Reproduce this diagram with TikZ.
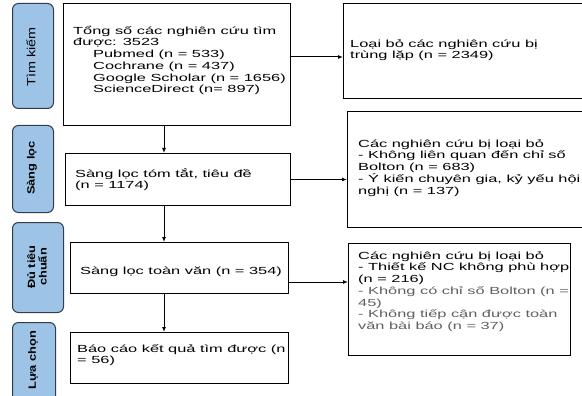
\documentclass[tikz,border=0pt]{standalone}
\usepackage{fontspec}
\setmainfont[FakeStretch=1.59]{Liberation Sans}
\newfontfamily\lblfont[FakeStretch=1.22]{Liberation Sans}
\usetikzlibrary{arrows.meta}
\definecolor{lblfill}{RGB}{157,195,230}
\definecolor{lbldraw}{RGB}{50,60,75}
\definecolor{graytxt}{RGB}{95,95,95}
\newcommand\mysz{\fontsize{10.3}{11.7}\selectfont\lineskiplimit=-20pt\relax}
\newcommand\lblsz{\lblfont\fontsize{10.5}{11.5}\selectfont\lineskiplimit=-20pt\relax}
\newcommand\fstrut{\rule{0pt}{10pt}}
\begin{document}
\begin{tikzpicture}[x=1pt,y=-1pt,
  box/.style={draw,line width=1pt,anchor=north west,inner sep=0pt},
  lbl/.style={draw=lbldraw,fill=lblfill,line width=1pt,rounded corners=6pt,anchor=north west,inner sep=0pt},
  txt/.style={anchor=north west,inner sep=0pt,align=left,font=\mysz},
  ltxt/.style={rotate=90,inner sep=0pt,align=center,font=\lblsz\bfseries},
  arr/.style={line width=1pt,-{Latex[length=5pt,width=4pt]}}]
\useasboundingbox (0,0) rectangle (582,396);
% stage labels
\node[lbl,minimum width=41pt,minimum height=105pt] (L1) at (12,3) {};
\node[lbl,minimum width=41pt,minimum height=87pt] (L2) at (12,125) {};
\node[lbl,minimum width=51pt,minimum height=90pt] (L3) at (12,222) {};
\node[lbl,minimum width=43pt,minimum height=80pt] (L4) at (12,322) {};
\node[ltxt,font=\lblfont\fontsize{11.8}{12}\selectfont] (l1t) at (31,57) {Tìm kiếm};
\node[ltxt] (l2t) at (32,168) {Sàng lọc};
\node[ltxt] (l3t) at (37,267) {Đủ tiêu\\chuẩn};
\node[ltxt] (l4t) at (33,360) {Lựa chọn};
% main boxes
\node[box,minimum width=227pt,minimum height=122pt] (b1) at (63,3) {};
\node[box,minimum width=250pt,minimum height=95pt] (dup) at (343,3) {};
\node[box,minimum width=225pt,minimum height=52pt] (b2) at (65,153) {};
\node[box,minimum width=246pt,minimum height=116pt] (ex1) at (347,111) {};
\node[box,minimum width=218pt,minimum height=51pt] (b3) at (70,242) {};
\node[box,minimum width=222pt,minimum height=112pt] (ex2) at (348,243) {};
\node[box,minimum width=218pt,minimum height=51pt] (b4) at (70,332) {};
% texts
\node[txt] (b1t) at (73,24) {\fstrut Tổng số các nghiên cứu tìm\\được: 3523\\\hspace*{20pt}Pubmed (n = 533)\\\hspace*{20pt}Cochrane (n = 437)\\\hspace*{20pt}Google Scholar (n = 1656)\\\hspace*{20pt}ScienceDirect (n= 897)};
\node[txt] (dupt) at (350,37) {\fstrut Loại bỏ các nghiên cứu bị\\trùng lặp (n = 2349)};
\node[txt] (b2t) at (75,167) {\fstrut Sàng lọc tóm tắt, tiêu đề\\(n = 1174)};
\node[txt] (ex1t) at (358,137) {\fstrut Các nghiên cứu bị loại bỏ\\- Không liên quan đến chỉ số\\Bolton (n = 683)\\- Ý kiến chuyên gia, kỷ yếu hội\\nghị (n = 137)};
\node[txt] (b3t) at (80,264) {\fstrut Sàng lọc toàn văn (n = 354)};
\node[txt] (ex2t) at (358,249) {\fstrut Các nghiên cứu bị loại bỏ\\- Thiết kế NC không phù hợp\\(n = 216)\\\textcolor{graytxt}{- Không có chỉ số Bolton (n =}\\\textcolor{graytxt}{45)}\\\textcolor{graytxt}{- Không tiếp cận được toàn}\\\textcolor{graytxt}{văn bài báo (n = 37)}};
\node[txt] (b4t) at (77,342) {\fstrut Báo cáo kết quả tìm được (n\\= 56)};
% connectors
\coordinate (vx) at (164,0);
\coordinate (h1) at (0,57);
\coordinate (h3) at (0,282);
\draw[arr] (b1.south -| vx) -- (b2.north -| vx);
\draw[arr] (b2.south -| vx) -- (b3.north -| vx);
\draw[arr] (b3.south -| vx) -- (b4.north -| vx);
\draw[arr] (b1.east |- h1) -- (dup.west |- h1);
\draw[arr] (b2.east) -- (ex1.west |- b2.east);
\draw[arr] (b3.east |- h3) -- (ex2.west |- h3);
\end{tikzpicture}
\end{document}
